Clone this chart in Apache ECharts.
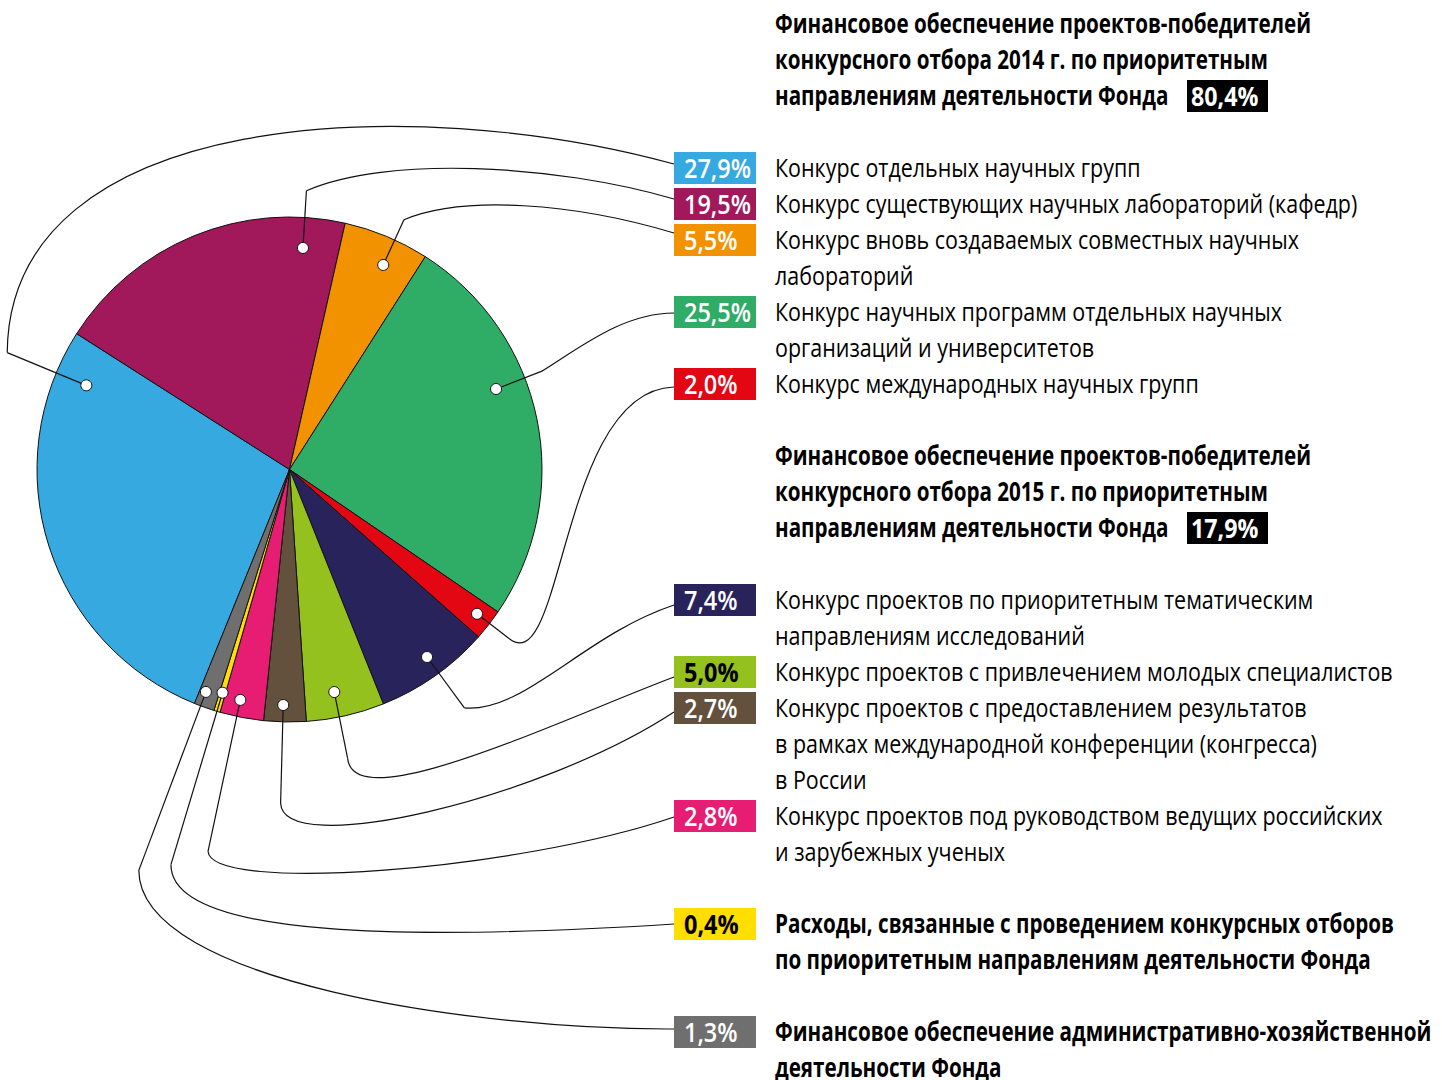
<!DOCTYPE html>
<html>
<head>
<meta charset="utf-8">
<script src="https://cdn.jsdelivr.net/npm/echarts@6/dist/echarts.min.js"></script>
<style>
  html, body { margin: 0; background: #fff; }
  #chart { width: 1442px; height: 1080px; }
</style>
</head>
<body>
<div id="chart"></div>
<script>
  // ---- data ----
  const groupTitles = [
    'Финансовое обеспечение проектов-победителей\nконкурсного отбора 2014 г. по приоритетным\nнаправлениям деятельности Фонда',
    'Финансовое обеспечение проектов-победителей\nконкурсного отбора 2015 г. по приоритетным\nнаправлениям деятельности Фонда',
  ]
  const groupTotals = [80.4, 17.9]
  const names = [
    'Конкурс отдельных научных групп',
    'Конкурс существующих научных лабораторий (кафедр)',
    'Конкурс вновь создаваемых совместных научных\nлабораторий',
    'Конкурс научных программ отдельных научных\nорганизаций и университетов',
    'Конкурс международных научных групп',
    'Конкурс проектов по приоритетным тематическим\nнаправлениям исследований',
    'Конкурс проектов с привлечением молодых специалистов',
    'Конкурс проектов с предоставлением результатов\nв рамках международной конференции (конгресса)\nв России',
    'Конкурс проектов под руководством ведущих российских\nи зарубежных ученых',
    'Расходы, связанные с проведением конкурсных отборов\nпо приоритетным направлениям деятельности Фонда',
    'Финансовое обеспечение административно-хозяйственной\nдеятельности Фонда',
  ]
  const values = [27.9, 19.5, 5.5, 25.5, 2.0, 7.4, 5.0, 2.7, 2.8, 0.4, 1.3]

  // ---- styling / layout ----
  const colors = ['#36a9e1', '#a1195a', '#f39200', '#2fac66', '#e30613', '#29235c', '#95c11f', '#63513d', '#e71d73', '#ffde00', '#706f6f']
  const darkText = [false, false, false, false, false, false, true, false, false, true, false]
  const boldName = [false, false, false, false, false, false, false, false, false, true, true]
  const rows = [4, 5, 6, 8, 10, 16, 18, 19, 22, 25, 28]
  const titleRows = [0, 12]
  const rowY = r => 25 + 36 * r
  const FONT = '"Open Sans", sans-serif'
  // the original uses a narrow face, so the text is squeezed sideways
  const SQUEEZE = { normal: 0.826, bold: 0.793, box: 0.87 }
  // where the dot sits inside a slice: [share of the slice angle, share of radius]
  const dotAt = [[0.9, 0.871], [0.868, 0.879], [0.6, 0.891], [0.394, 0.878], [0.45, 0.937], [0.458, 0.921],
    [0.58, 0.899], [0.55, 0.933], [0.61, 0.933], [0.5, 0.923], [0.68, 0.941]]
  // leader: elbow radius (share of pie radius), handle at elbow, handle at box, offset at box
  const leader = [
    { elbow: 1.21, h1: [2, -245], h2: [-262, -72], dy: -4 },
    { elbow: 1.106, h1: [80, -35], h2: [-120, -35], dy: -5 },
    { elbow: 1.088, h1: [60, -25], h2: [-100, -30], dy: -7 },
    { elbow: 1.073, h1: [40, -25], h2: [-50, 0], dy: 1 },
    { elbow: 1.097, h1: [55, 44], h2: [-114, 3], dy: 3 },
    { elbow: 1.171, h1: [60, 5], h2: [-90, 30], dy: 5 },
    { elbow: 1.167, h1: [6, 61], h2: [-114, 43], dy: 5 },
    { elbow: 1.321, h1: [2, 57], h2: [-134, 88], dy: 4 },
    { elbow: 1.546, h1: [3, 43], h2: [-154, 53], dy: 1 },
    { elbow: 1.634, h1: [0, 75], h2: [-254, 16], dy: 0 },
    { elbow: 1.696, h1: [0, 112], h2: [-194, 1], dy: -3 },
  ]
  const boxX = 674, boxW = 82, boxH = 32, textX = 775

  const fmt = v => v.toFixed(1).replace('.', ',') + '%'

  const chart = echarts.init(document.getElementById('chart'), null, { renderer: 'svg' })
  chart.setOption({
    animation: false,
    series: [{
      type: 'pie',
      center: [289.5, 469.5],
      radius: 252.5,
      startAngle: 247.9,
      clockwise: true,
      silent: true,
      avoidLabelOverlap: false,
      label: { show: false },
      labelLine: { show: false },
      itemStyle: { borderColor: '#111', borderWidth: 1 },
      emphasis: { disabled: true },
      data: values.map((v, i) => ({ name: names[i], value: v, itemStyle: { color: colors[i] } })),
    }],
  })

  const pieData = chart.getModel().getSeriesByIndex(0).getData()
  const els = []
  const label = (text, x, y, font, fill, squeeze, z) => ({
    type: 'text', x, y, scaleX: squeeze, z: z || 100,
    style: { text, x: 0, y: 0, font, lineHeight: 36, fill, verticalAlign: 'top' },
  })

  titleRows.forEach((r, g) => {
    els.push(label(groupTitles[g], textX, rowY(r) - 20, 'bold 26px ' + FONT, '#000', SQUEEZE.bold))
    els.push({ type: 'rect', z: 100, shape: { x: 1187, y: rowY(r + 2) - 17, width: 81, height: boxH }, style: { fill: '#000' } })
    els.push(label(fmt(groupTotals[g]), 1191, rowY(r + 2) - 20, 'bold 27px ' + FONT, '#fff', 0.86, 101))
  })

  values.forEach((v, i) => {
    const cy = rowY(rows[i]) - 1
    els.push({ type: 'rect', z: 100, shape: { x: boxX, y: cy - boxH / 2, width: boxW, height: boxH }, style: { fill: colors[i] } })
    els.push(label(fmt(v), boxX + 10, cy - 19, (darkText[i] ? 'bold ' : '600 ') + '27px ' + FONT, darkText[i] ? '#000' : '#fff', SQUEEZE.box, 101))
    els.push(label(names[i], textX, rowY(rows[i]) - 20, (boldName[i] ? 'bold ' : '') + '26px ' + FONT, '#000',
      boldName[i] ? SQUEEZE.bold : SQUEEZE.normal))

    // leader line from the slice
    const lay = pieData.getItemLayout(i)
    const a = lay.startAngle + dotAt[i][0] * (lay.endAngle - lay.startAngle)
    const dot = [lay.cx + dotAt[i][1] * lay.r * Math.cos(a), lay.cy + dotAt[i][1] * lay.r * Math.sin(a)]
    const L = leader[i]
    const elbow = [lay.cx + L.elbow * lay.r * Math.cos(a), lay.cy + L.elbow * lay.r * Math.sin(a)]
    const end = [boxX, cy + L.dy]
    const lineStyle = { fill: null, stroke: '#111', lineWidth: 1.2 }
    els.push({ type: 'polyline', z: 100, shape: { points: [dot, elbow] }, style: lineStyle })
    els.push({
      type: 'bezierCurve', z: 100,
      shape: {
        x1: elbow[0], y1: elbow[1],
        cpx1: elbow[0] + L.h1[0], cpy1: elbow[1] + L.h1[1],
        cpx2: end[0] + L.h2[0], cpy2: end[1] + L.h2[1],
        x2: end[0], y2: end[1],
      },
      style: lineStyle,
    })
    els.push({ type: 'circle', z: 102, shape: { cx: dot[0], cy: dot[1], r: 5.5 }, style: { fill: '#fff', stroke: '#111', lineWidth: 1 } })
  })

  chart.setOption({ graphic: { elements: els } })
</script>
</body>
</html>
